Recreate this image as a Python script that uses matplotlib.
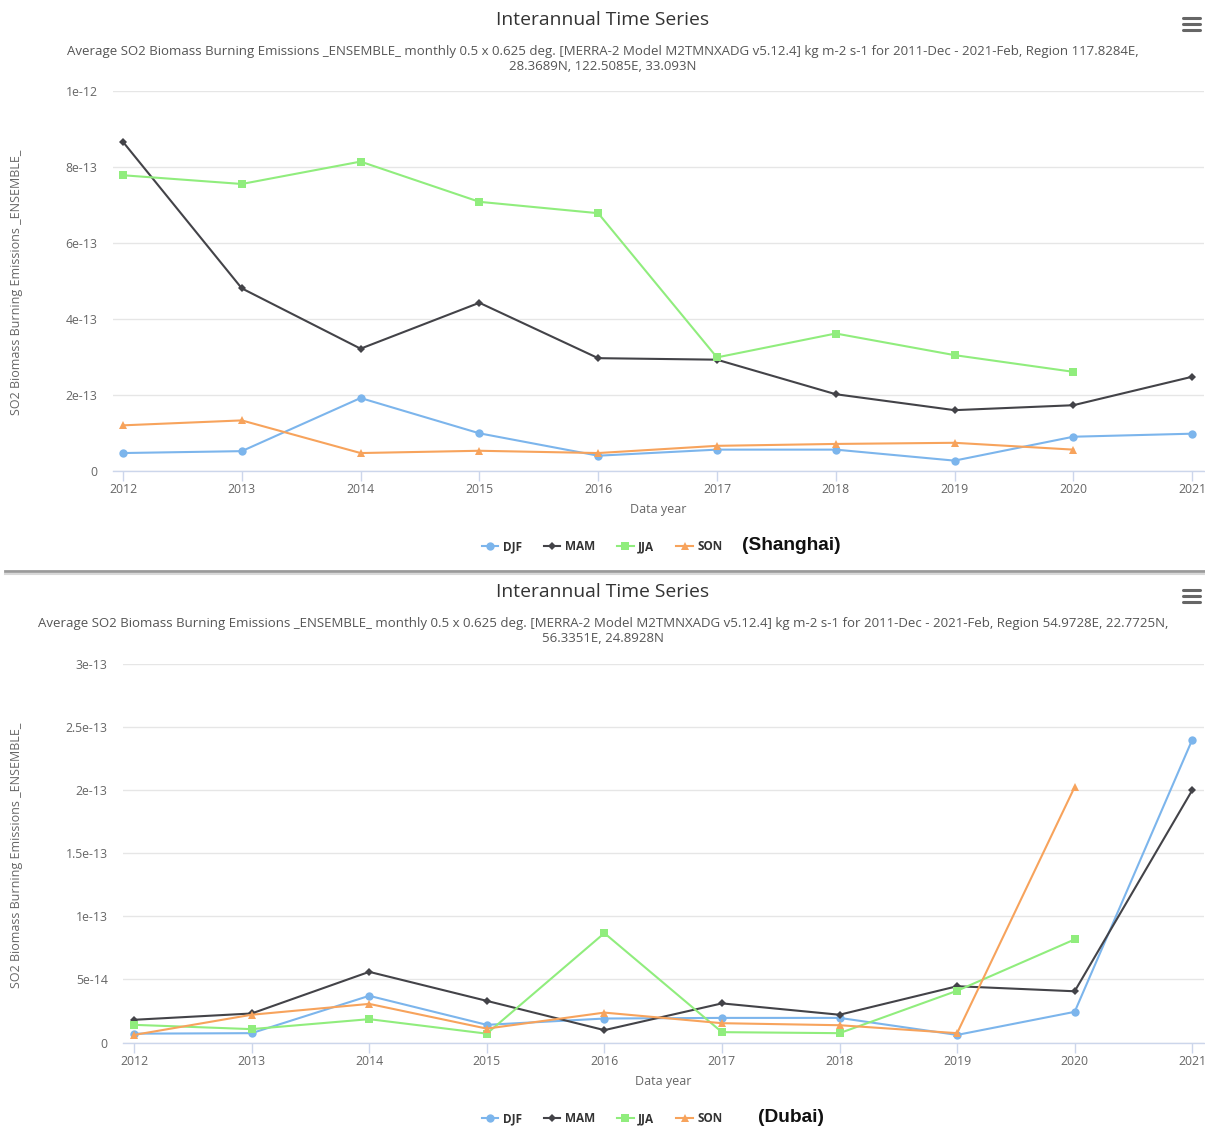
import numpy as np
import matplotlib
matplotlib.use("Agg")
import matplotlib.pyplot as plt
from matplotlib.lines import Line2D
from matplotlib.ticker import FixedLocator, FixedFormatter

# ---------------- data ----------------
years = [2012, 2013, 2014, 2015, 2016, 2017, 2018, 2019, 2020, 2021]
season_names = ["DJF", "MAM", "JJA", "SON"]

sh_djf = [0.46e-13, 0.51e-13, 1.91e-13, 0.98e-13, 0.39e-13, 0.55e-13, 0.55e-13, 0.26e-13, 0.89e-13, 0.97e-13]
sh_mam = [8.66e-13, 4.80e-13, 3.21e-13, 4.42e-13, 2.96e-13, 2.92e-13, 2.01e-13, 1.59e-13, 1.72e-13, 2.47e-13]
sh_jja = [7.78e-13, 7.55e-13, 8.14e-13, 7.08e-13, 6.78e-13, 2.98e-13, 3.61e-13, 3.04e-13, 2.60e-13, np.nan]
sh_son = [1.19e-13, 1.32e-13, 0.46e-13, 0.52e-13, 0.46e-13, 0.65e-13, 0.70e-13, 0.73e-13, 0.55e-13, np.nan]

db_djf = [0.70e-14, 0.74e-14, 3.70e-14, 1.40e-14, 1.90e-14, 1.95e-14, 1.95e-14, 0.60e-14, 2.43e-14, 24.0e-14]
db_mam = [1.80e-14, 2.30e-14, 5.60e-14, 3.30e-14, 0.98e-14, 3.10e-14, 2.20e-14, 4.46e-14, 4.06e-14, 20.0e-14]
db_jja = [1.40e-14, 1.06e-14, 1.85e-14, 0.70e-14, 8.67e-14, 0.82e-14, 0.74e-14, 4.10e-14, 8.17e-14, np.nan]
db_son = [0.60e-14, 2.20e-14, 3.06e-14, 1.10e-14, 2.37e-14, 1.53e-14, 1.37e-14, 0.74e-14, 20.25e-14, np.nan]

sh_yticks = [0, 2e-13, 4e-13, 6e-13, 8e-13, 1e-12]
sh_ylabels = ["0", "2e-13", "4e-13", "6e-13", "8e-13", "1e-12"]
db_yticks = [0, 5e-14, 1e-13, 1.5e-13, 2e-13, 2.5e-13, 3e-13]
db_ylabels = ["0", "5e-14", "1e-13", "1.5e-13", "2e-13", "2.5e-13", "3e-13"]

title = "Interannual Time Series"
sh_subtitle = ("Average SO2 Biomass Burning Emissions _ENSEMBLE_ monthly 0.5 x 0.625 deg. [MERRA-2 Model M2TMNXADG v5.12.4] "
               "kg m-2 s-1 for 2011-Dec - 2021-Feb, Region 117.8284E,\n28.3689N, 122.5085E, 33.093N")
db_subtitle = ("Average SO2 Biomass Burning Emissions _ENSEMBLE_ monthly 0.5 x 0.625 deg. [MERRA-2 Model M2TMNXADG v5.12.4] "
               "kg m-2 s-1 for 2011-Dec - 2021-Feb, Region 54.9728E, 22.7725N,\n56.3351E, 24.8928N")
ylabel = "SO2 Biomass Burning Emissions _ENSEMBLE_"
xlabel = "Data year"

# ---------------- style ----------------
W, H = 1205, 1129
plt.rcParams["font.family"] = ["Open Sans", "DejaVu Sans"]
colors = ["#7cb5ec", "#434348", "#90ed7d", "#f7a35c"]
markers = ["o", "D", "s", "^"]
msizes = [6, 4.2, 5.6, 6.2]

fig = plt.figure(figsize=(W / 100, H / 100), dpi=100)


def fx(px):
    return px / W


def fy(py):
    return 1 - py / H


def make_panel(left_px, right_px, top_px, bottom_px, x0, x1, yticks, ylabels,
               series, subtitle, title_y, sub_y, xlab_y, leg_y, city, city_x, icon_y):
    ax = fig.add_axes([fx(left_px), fy(bottom_px), fx(right_px - left_px), (bottom_px - top_px) / H])
    for vals, c, m, ms, name in zip(series, colors, markers, msizes, season_names):
        ax.plot(years, vals, color=c, lw=1.5, marker=m, markersize=ms, label=name,
                markeredgewidth=0, zorder=3)
    ax.set_xlim(x0, x1)
    ax.set_ylim(yticks[0], yticks[-1])
    ax.yaxis.set_major_locator(FixedLocator(yticks))
    ax.yaxis.set_major_formatter(FixedFormatter(ylabels))
    ax.set_xticks(years)
    ax.set_xticklabels([str(y) for y in years])
    ax.grid(axis="y", color="#e6e6e6", lw=1)
    ax.set_axisbelow(True)
    for s in ["top", "right", "left"]:
        ax.spines[s].set_visible(False)
    ax.spines["bottom"].set_color("#ccd6eb")
    ax.spines["bottom"].set_linewidth(1)
    ax.tick_params(axis="y", length=0, pad=11, labelsize=8.8, labelcolor="#666666")
    ax.tick_params(axis="x", length=7, width=1, color="#ccd6eb", pad=2, labelsize=8.8, labelcolor="#666666")

    cx = (left_px + right_px) / 2
    fig.text(fx(603), fy(title_y), title, ha="center", va="center", fontsize=13.9, color="#333333")
    fig.text(fx(603), fy(sub_y), subtitle, ha="center", va="center", fontsize=9.5,
             color="#555555", linespacing=1.2)
    fig.text(fx(cx), fy(xlab_y), xlabel, ha="center", va="center", fontsize=9, color="#666666")
    fig.text(fx(17), fy((top_px + bottom_px) / 2 + 2), ylabel, ha="center", va="center",
             rotation=90, fontsize=9, color="#666666")

    handles, labels = ax.get_legend_handles_labels()
    leg = fig.legend(handles, labels, loc="center", bbox_to_anchor=(fx(602), fy(leg_y)), ncol=4,
                     frameon=False, handlelength=1.4, handletextpad=0.35, columnspacing=1.9,
                     prop={"size": 8.5, "weight": "bold"})
    for t in leg.get_texts():
        t.set_color("#333333")
    fig.text(fx(city_x), fy(leg_y - 2), city, ha="left", va="center", fontsize=13.8,
             fontweight="bold", color="#111111", family=["Liberation Sans", "DejaVu Sans"])

    # menu (hamburger) icon
    for dy in (-6, 0, 6):
        fig.add_artist(Line2D([fx(1183), fx(1200)], [fy(icon_y + dy), fy(icon_y + dy)],
                              transform=fig.transFigure, color="#666666", lw=2.2,
                              solid_capstyle="round"))
    return ax


make_panel(113, 1204, 91, 470.5, 2011.916, 2021.10, sh_yticks, sh_ylabels,
           [sh_djf, sh_mam, sh_jja, sh_son], sh_subtitle,
           title_y=20, sub_y=59, xlab_y=509, leg_y=547, city="(Shanghai)", city_x=742, icon_y=24)

make_panel(123, 1204, 664, 1042.5, 2011.906, 2021.10, db_yticks, db_ylabels,
           [db_djf, db_mam, db_jja, db_son], db_subtitle,
           title_y=592, sub_y=631, xlab_y=1081, leg_y=1119, city="(Dubai)", city_x=758, icon_y=596)

# separator between the two charts
fig.add_artist(Line2D([fx(5), fx(1205)], [fy(571), fy(571)], transform=fig.transFigure,
                      color="#9a9a9a", lw=2))
fig.add_artist(Line2D([fx(5), fx(1205)], [fy(573.5), fy(573.5)], transform=fig.transFigure,
                      color="#d8d8d8", lw=1.5))

fig.savefig("out.png", dpi=100, facecolor="white")
